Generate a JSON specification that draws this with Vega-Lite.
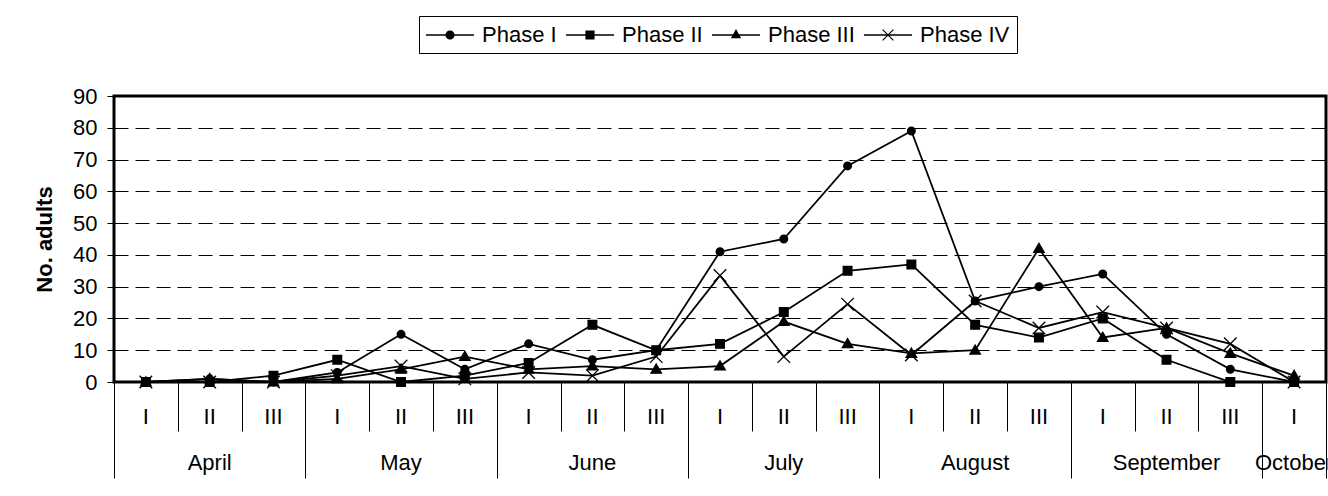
{
  "$schema": "https://vega.github.io/schema/vega-lite/v6.json",
  "width": 1212,
  "height": 286,
  "autosize": "none",
  "padding": {"left": 114, "top": 96, "right": 2, "bottom": 114},
  "background": "white",
  "config": {
    "view": {"stroke": "black", "strokeWidth": 3},
    "font": "Liberation Sans"
  },
  "data": {
    "values": [
      {"period": "Apr I", "series": "Phase I", "value": 0},
      {"period": "Apr II", "series": "Phase I", "value": 1},
      {"period": "Apr III", "series": "Phase I", "value": 0},
      {"period": "May I", "series": "Phase I", "value": 3},
      {"period": "May II", "series": "Phase I", "value": 15},
      {"period": "May III", "series": "Phase I", "value": 4},
      {"period": "Jun I", "series": "Phase I", "value": 12},
      {"period": "Jun II", "series": "Phase I", "value": 7},
      {"period": "Jun III", "series": "Phase I", "value": 10},
      {"period": "Jul I", "series": "Phase I", "value": 41},
      {"period": "Jul II", "series": "Phase I", "value": 45},
      {"period": "Jul III", "series": "Phase I", "value": 68},
      {"period": "Aug I", "series": "Phase I", "value": 79},
      {"period": "Aug II", "series": "Phase I", "value": 25.5},
      {"period": "Aug III", "series": "Phase I", "value": 30},
      {"period": "Sep I", "series": "Phase I", "value": 34},
      {"period": "Sep II", "series": "Phase I", "value": 15},
      {"period": "Sep III", "series": "Phase I", "value": 4},
      {"period": "Oct I", "series": "Phase I", "value": 0},

      {"period": "Apr I", "series": "Phase II", "value": 0},
      {"period": "Apr II", "series": "Phase II", "value": 0},
      {"period": "Apr III", "series": "Phase II", "value": 2},
      {"period": "May I", "series": "Phase II", "value": 7},
      {"period": "May II", "series": "Phase II", "value": 0},
      {"period": "May III", "series": "Phase II", "value": 2},
      {"period": "Jun I", "series": "Phase II", "value": 6},
      {"period": "Jun II", "series": "Phase II", "value": 18},
      {"period": "Jun III", "series": "Phase II", "value": 10},
      {"period": "Jul I", "series": "Phase II", "value": 12},
      {"period": "Jul II", "series": "Phase II", "value": 22},
      {"period": "Jul III", "series": "Phase II", "value": 35},
      {"period": "Aug I", "series": "Phase II", "value": 37},
      {"period": "Aug II", "series": "Phase II", "value": 18},
      {"period": "Aug III", "series": "Phase II", "value": 14},
      {"period": "Sep I", "series": "Phase II", "value": 20},
      {"period": "Sep II", "series": "Phase II", "value": 7},
      {"period": "Sep III", "series": "Phase II", "value": 0},
      {"period": "Oct I", "series": "Phase II", "value": 0},

      {"period": "Apr I", "series": "Phase III", "value": 0},
      {"period": "Apr II", "series": "Phase III", "value": 1},
      {"period": "Apr III", "series": "Phase III", "value": 0},
      {"period": "May I", "series": "Phase III", "value": 1},
      {"period": "May II", "series": "Phase III", "value": 4},
      {"period": "May III", "series": "Phase III", "value": 8},
      {"period": "Jun I", "series": "Phase III", "value": 4},
      {"period": "Jun II", "series": "Phase III", "value": 5},
      {"period": "Jun III", "series": "Phase III", "value": 4},
      {"period": "Jul I", "series": "Phase III", "value": 5},
      {"period": "Jul II", "series": "Phase III", "value": 19},
      {"period": "Jul III", "series": "Phase III", "value": 12},
      {"period": "Aug I", "series": "Phase III", "value": 9},
      {"period": "Aug II", "series": "Phase III", "value": 10},
      {"period": "Aug III", "series": "Phase III", "value": 42},
      {"period": "Sep I", "series": "Phase III", "value": 14},
      {"period": "Sep II", "series": "Phase III", "value": 17},
      {"period": "Sep III", "series": "Phase III", "value": 9},
      {"period": "Oct I", "series": "Phase III", "value": 2},

      {"period": "Apr I", "series": "Phase IV", "value": 0},
      {"period": "Apr II", "series": "Phase IV", "value": 0},
      {"period": "Apr III", "series": "Phase IV", "value": 0},
      {"period": "May I", "series": "Phase IV", "value": 2},
      {"period": "May II", "series": "Phase IV", "value": 5},
      {"period": "May III", "series": "Phase IV", "value": 1},
      {"period": "Jun I", "series": "Phase IV", "value": 3},
      {"period": "Jun II", "series": "Phase IV", "value": 2},
      {"period": "Jun III", "series": "Phase IV", "value": 8},
      {"period": "Jul I", "series": "Phase IV", "value": 33.5},
      {"period": "Jul II", "series": "Phase IV", "value": 8},
      {"period": "Jul III", "series": "Phase IV", "value": 24.5},
      {"period": "Aug I", "series": "Phase IV", "value": 8.5},
      {"period": "Aug II", "series": "Phase IV", "value": 25.5},
      {"period": "Aug III", "series": "Phase IV", "value": 17},
      {"period": "Sep I", "series": "Phase IV", "value": 22},
      {"period": "Sep II", "series": "Phase IV", "value": 17},
      {"period": "Sep III", "series": "Phase IV", "value": 12},
      {"period": "Oct I", "series": "Phase IV", "value": 0}
    ]
  },
  "encoding": {
    "y": {
      "field": "value", "type": "quantitative",
      "scale": {"domain": [0, 90], "nice": false},
      "axis": {
        "values": [0, 10, 20, 30, 40, 50, 60, 70, 80, 90],
        "title": "No. adults", "titleFont": "Liberation Sans", "titleFontSize": 22, "titleFontWeight": "bold", "titleColor": "black", "titlePadding": 16,
        "labelFont": "Liberation Sans", "labelFontSize": 22, "labelColor": "black", "labelPadding": 10, "labelOverlap": false,
        "tickSize": 7, "tickColor": "black", "domain": false,
        "grid": true, "gridColor": "black", "gridDash": [14, 7], "gridWidth": 1
      }
    }
  },
  "resolve": {"axis": {"x": "independent"}, "scale": {"shape": "independent"}},
  "layer": [
    {
      "mark": {"type": "line", "color": "black", "strokeWidth": 1.8},
      "encoding": {
        "x": {
          "field": "period", "type": "ordinal",
          "sort": ["Apr I","Apr II","Apr III","May I","May II","May III","Jun I","Jun II","Jun III","Jul I","Jul II","Jul III","Aug I","Aug II","Aug III","Sep I","Sep II","Sep III","Oct I"],
          "scale": {"type": "band", "paddingInner": 0, "paddingOuter": 0},
          "axis": {
            "orient": "bottom", "title": null, "domain": false, "ticks": false, "grid": false,
            "labelExpr": "[split(datum.value, ' ')[1], datum.value == 'Apr II' ? 'April' : datum.value == 'May II' ? 'May' : datum.value == 'Jun II' ? 'June' : datum.value == 'Jul II' ? 'July' : datum.value == 'Aug II' ? 'August' : datum.value == 'Sep II' ? 'September' : datum.value == 'Oct I' ? 'October' : '']",
            "labelFont": "Liberation Sans", "labelFontSize": 22, "labelColor": "black",
            "labelBaseline": "top", "labelAngle": 0, "labelPadding": 24, "labelLineHeight": 46,
            "labelOverlap": false, "labelBound": false, "labelFlush": false
          }
        },
        "detail": {"field": "series", "type": "nominal"}
      }
    },
    {
      "mark": {"type": "point", "filled": true, "color": "black", "stroke": "black", "strokeWidth": 1.3, "opacity": 1, "size": 196},
      "encoding": {
        "x": {
          "field": "period", "type": "ordinal",
          "sort": ["Apr I","Apr II","Apr III","May I","May II","May III","Jun I","Jun II","Jun III","Jul I","Jul II","Jul III","Aug I","Aug II","Aug III","Sep I","Sep II","Sep III","Oct I"],
          "axis": {
            "orient": "bottom", "title": null, "labels": false, "domain": false, "grid": false,
            "ticks": true, "tickBand": "extent", "tickColor": "black", "tickWidth": 1,
            "tickSize": {"condition": {"test": "!isValid(datum.value) || indexof(datum.value, 'III') >= 0 || datum.value == 'Oct I'", "value": 96}, "value": 49}
          }
        },
        "shape": {
          "field": "series", "type": "nominal",
          "scale": {
            "domain": ["Phase I", "Phase II", "Phase III", "Phase IV"],
            "range": [
              "M0.55,0A0.55,0.55,0,1,1,-0.55,0A0.55,0.55,0,1,1,0.55,0Z",
              "M-0.62,-0.62H0.62V0.62H-0.62Z",
              "M0,-0.75L0.75,0.55H-0.75Z",
              "M-0.9,-0.9L0.9,0.9M-0.9,0.9L0.9,-0.9"
            ]
          },
          "legend": null
        }
      }
    },
    {
      "transform": [{"filter": "false"}],
      "mark": {"type": "point", "filled": true, "color": "black", "opacity": 1},
      "encoding": {
        "shape": {
          "field": "series", "type": "nominal",
          "scale": {
            "domain": ["Phase I", "Phase II", "Phase III", "Phase IV"],
            "range": [
              "M-1,-0.055H3V0.055H-1ZM1.38,0A0.38,0.38,0,1,1,0.62,0A0.38,0.38,0,1,1,1.38,0Z",
              "M-1,-0.055H3V0.055H-1ZM0.62,-0.38H1.38V0.38H0.62Z",
              "M-1,-0.055H3V0.055H-1ZM1,-0.5L1.43,0.27H0.57Z",
              "M-1,-0.055H3V0.055H-1ZM0.585,-0.485L1.485,0.415L1.415,0.485L0.515,-0.415ZM0.515,0.415L1.415,-0.485L1.485,-0.415L0.585,0.485Z"
            ]
          },
          "legend": {
            "orient": "none", "legendX": 305, "legendY": -80, "direction": "horizontal", "columns": 4,
            "title": null, "symbolSize": 576, "symbolStrokeWidth": 0,
            "symbolFillColor": "black", "symbolOpacity": 1,
            "labelFont": "Liberation Sans", "labelFontSize": 22, "labelColor": "black", "labelOffset": 32,
            "columnPadding": 9, "padding": 7, "strokeColor": "black", "fillColor": "white", "cornerRadius": 0
          }
        }
      }
    }
  ]
}
